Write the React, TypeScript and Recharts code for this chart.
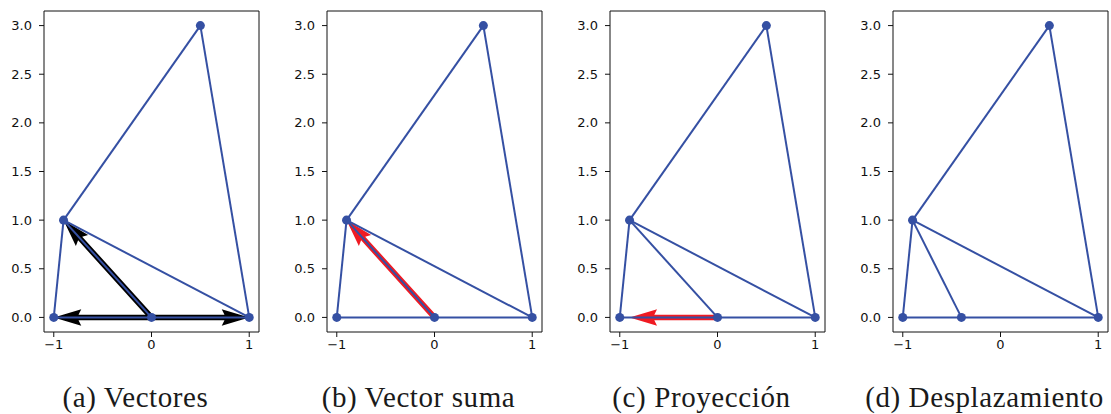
import { ScatterChart, Scatter, XAxis, YAxis, ZAxis, ReferenceArea } from 'recharts';

// mesh nodes
const nodeX = [-1, 0, 1, -0.9, 0.5];
const nodeY = [0, 0, 0, 1, 3];
// node 1 moved in the last panel
const movedX = [-1, -0.4, 1, -0.9, 0.5];

// edges by node index
const edgeFrom = [0, 1, 0, 1, 2, 3, 4];
const edgeTo = [1, 2, 3, 3, 3, 4, 2];

// vectors drawn from node 1
const vecA_X = [-1, 1, -0.9];
const vecA_Y = [0, 0, 1];
const vecB_X = [-0.9];
const vecB_Y = [1];
const vecC_X = [-0.9];
const vecC_Y = [0];

const xTicks = [-1, 0, 1];
const yTicks = [0, 0.5, 1, 1.5, 2, 2.5, 3];
const captions = ['(a) Vectores', '(b) Vector suma', '(c) Proyección', '(d) Desplazamiento'];

const BLUE = '#3550a3';
const RED = '#f01a22';
const tickStyle = { fontFamily: 'DejaVu Sans', fontSize: 13, fill: '#111' };

// matplotlib-like quiver arrow drawn along the scatter line points
const quiver = (color: string) => (props: any) => {
  const pts = props.points;
  if (!pts || pts.length < 2) return <g />;
  const [p0, p1] = pts;
  const dx = p1.x - p0.x;
  const dy = p1.y - p0.y;
  const len = Math.sqrt(dx * dx + dy * dy);
  const ux = dx / len;
  const uy = dy / len;
  const nx = -uy;
  const ny = ux;
  const w = 5.5;
  const hl = w * 5;
  const ha = w * 4.5;
  const hw = w * 1.5;
  const pt = (along: number, side: number) =>
    `${p1.x - ux * along + nx * side},${p1.y - uy * along + ny * side}`;
  const poly = [
    `${p0.x + nx * (w / 2)},${p0.y + ny * (w / 2)}`,
    pt(ha, w / 2),
    pt(hl, hw),
    pt(0, 0),
    pt(hl, -hw),
    pt(ha, -w / 2),
    `${p0.x - nx * (w / 2)},${p0.y - ny * (w / 2)}`,
  ].join(' ');
  return <polygon points={poly} fill={color} stroke="none" />;
};

const Panel = ({ xs, vx, vy, color }: { xs: number[]; vx: number[]; vy: number[]; color: string }) => {
  const nodes = xs.map((x, i) => ({ x, y: nodeY[i] }));
  const edges = edgeFrom.map((f, i) => [nodes[f], nodes[edgeTo[i]]]);
  const vectors = vx.map((x, i) => [nodes[1], { x, y: vy[i] }]);

  return (
    <ScatterChart width={264} height={362} margin={{ top: 11, right: 5, left: 0, bottom: 0 }}>
      <XAxis
        type="number"
        dataKey="x"
        domain={[-1.1, 1.1]}
        ticks={xTicks}
        allowDataOverflow
        axisLine={false}
        tickSize={5}
        tickMargin={3}
        tickLine={{ stroke: '#111' }}
        tick={tickStyle}
        tickFormatter={(v: number) => (v < 0 ? `\u2212${-v}` : `${v}`)}
        height={30}
      />
      <YAxis
        type="number"
        dataKey="y"
        domain={[-0.15, 3.15]}
        ticks={yTicks}
        allowDataOverflow
        axisLine={false}
        tickSize={5}
        tickMargin={7}
        tickLine={{ stroke: '#111' }}
        tick={tickStyle}
        tickFormatter={(v: number) => v.toFixed(1)}
        width={44}
      />
      <ZAxis range={[85, 85]} />
      <ReferenceArea x1={-1.1} x2={1.1} y1={-0.15} y2={3.15} fill="none" stroke="#111" strokeWidth={1} />
      {vectors.map((v, i) => (
        <Scatter
          key={'v' + i}
          data={v}
          line={quiver(color)}
          lineType="joint"
          shape={() => <g />}
          isAnimationActive={false}
        />
      ))}
      {edges.map((e, i) => (
        <Scatter
          key={'e' + i}
          data={e}
          line={{ stroke: BLUE, strokeWidth: 2 }}
          lineType="joint"
          shape={() => <g />}
          isAnimationActive={false}
        />
      ))}
      <Scatter data={nodes} fill={BLUE} shape="circle" isAnimationActive={false} />
    </ScatterChart>
  );
};

const panelLefts = [0, 283, 566, 849];

export default function App() {
  const panels = [
    { xs: nodeX, vx: vecA_X, vy: vecA_Y, color: '#000' },
    { xs: nodeX, vx: vecB_X, vy: vecB_Y, color: RED },
    { xs: nodeX, vx: vecC_X, vy: vecC_Y, color: RED },
    { xs: movedX, vx: [], vy: [], color: RED },
  ];
  return (
    <div style={{ position: 'absolute', left: 0, top: 0, width: 1111, height: 414, background: '#fff' }}>
      <svg width={1111} height={414} style={{ position: 'absolute', left: 0, top: 0 }}>
        {captions.map((c, i) => (
          <text
            key={c}
            x={panelLefts[i] + 44 + 107.5 - 16}
            y={407}
            textAnchor="middle"
            fontFamily="Liberation Serif"
            fontSize={29}
            letterSpacing={0.6}
            fill="#1a1a1a"
          >
            {c}
          </text>
        ))}
      </svg>
      {panels.map((p, i) => (
        <div key={i} style={{ position: 'absolute', left: panelLefts[i], top: 0 }}>
          <Panel xs={p.xs} vx={p.vx} vy={p.vy} color={p.color} />
        </div>
      ))}
    </div>
  );
}
